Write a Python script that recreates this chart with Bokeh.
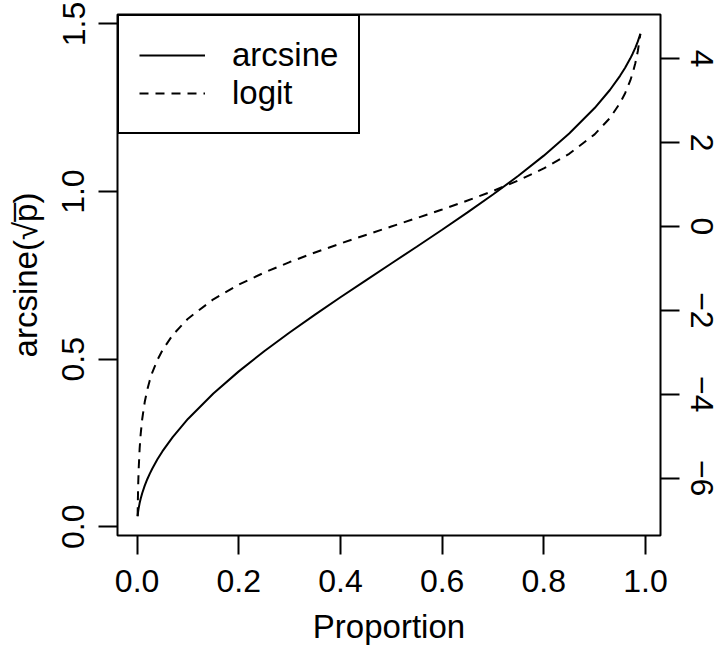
from bokeh.plotting import figure
from bokeh.models import Range1d, LinearAxis, FixedTicker, Legend, LegendItem, PrintfTickFormatter
from bokeh.embed import file_html
from bokeh.resources import INLINE

# Data
proportion = [0.001, 0.002, 0.003, 0.005, 0.007, 0.01, 0.015, 0.02, 0.025, 0.03, 0.04, 0.05,
              0.07, 0.1, 0.15, 0.2, 0.25, 0.3, 0.35, 0.4, 0.45, 0.5, 0.55, 0.6, 0.65,
              0.7, 0.75, 0.8, 0.85, 0.9, 0.93, 0.95, 0.96, 0.97, 0.975, 0.98, 0.985, 0.99]
arcsine = [0.031628, 0.044736, 0.054800, 0.070770, 0.083764, 0.100167, 0.122782, 0.141897,
           0.158780, 0.174083, 0.201358, 0.225513, 0.267763, 0.321751, 0.397699, 0.463648,
           0.523599, 0.579580, 0.633052, 0.684719, 0.735314, 0.785398, 0.835482, 0.886077,
           0.937744, 0.991216, 1.047198, 1.107148, 1.173097, 1.249045, 1.303033, 1.345283,
           1.369438, 1.396713, 1.412016, 1.428899, 1.448014, 1.470629]
logit = [-6.906755, -6.212606, -5.806138, -5.293305, -4.954820, -4.595120, -4.184591, -3.891820,
         -3.663562, -3.476099, -3.178054, -2.944439, -2.586689, -2.197225, -1.734601, -1.386294,
         -1.098612, -0.847298, -0.619039, -0.405465, -0.200671, 0.0, 0.200671, 0.405465,
         0.619039, 0.847298, 1.098612, 1.386294, 1.734601, 2.197225, 2.586689, 2.944439,
         3.178054, 3.476099, 3.663562, 3.891820, 4.184591, 4.595120]

x_ticks = [0.0, 0.2, 0.4, 0.6, 0.8, 1.0]
left_ticks = [0.0, 0.5, 1.0, 1.5]
right_ticks = [-6, -4, -2, 0, 2, 4]
right_tick_labels = ["\u22126", "\u22124", "\u22122", "0", "2", "4"]


def padded(vals, frac=0.04):
    lo, hi = min(vals), max(vals)
    d = (hi - lo) * frac
    return lo - d, hi + d


FONT = "Liberation Sans"
FS = "32px"
TFS = "33px"

x0, x1 = padded(proportion)
y0, y1 = padded(arcsine)
r0, r1 = padded(logit)

p = figure(width=718, height=647, output_backend="svg", toolbar_location=None,
           x_range=Range1d(x0, x1), y_range=Range1d(y0, y1),
           min_border_left=117, min_border_right=58, min_border_top=14, min_border_bottom=111,
           x_axis_label="Proportion", y_axis_label="arcsine(\u221ap\u0305)")
p.extra_y_ranges = {"logit": Range1d(r0, r1)}

p.outline_line_color = "black"
p.outline_line_width = 2
p.outline_line_alpha = 1
p.xgrid.visible = False
p.ygrid.visible = False
p.background_fill_color = "white"
p.border_fill_color = "white"

rA = p.line(proportion, arcsine, line_color="black", line_width=2)
rL = p.line(proportion, logit, line_color="black", line_width=2, line_dash="9 7",
            y_range_name="logit")

right = LinearAxis(y_range_name="logit")
p.add_layout(right, "right")


def style(ax):
    ax.axis_line_color = None
    ax.major_tick_line_color = "black"
    ax.major_tick_line_width = 2
    ax.major_tick_in = 0
    ax.major_tick_out = 19
    ax.minor_tick_line_color = None
    ax.major_label_text_font = FONT
    ax.major_label_text_font_size = FS
    ax.major_label_text_color = "black"
    ax.axis_label_text_font = FONT
    ax.axis_label_text_font_size = TFS
    ax.axis_label_text_font_style = "normal"
    ax.axis_label_text_color = "black"


for ax in p.xaxis:
    style(ax)
    ax.ticker = FixedTicker(ticks=x_ticks)
    ax.formatter = PrintfTickFormatter(format="%.1f")
    ax.major_label_standoff = 15
    ax.axis_label_standoff = 13

for ax in p.yaxis:
    style(ax)
    ax.major_label_orientation = "vertical"

left = p.left[0]
left.ticker = FixedTicker(ticks=left_ticks)
left.formatter = PrintfTickFormatter(format="%.1f")
left.major_label_standoff = 14
left.axis_label_standoff = 16

right.ticker = FixedTicker(ticks=right_ticks)
right.major_label_overrides = {t: s for t, s in zip(right_ticks, right_tick_labels)}
right.major_label_standoff = 11

legend = Legend(items=[LegendItem(label="arcsine", renderers=[rA]),
                       LegendItem(label="logit", renderers=[rL])],
                location="top_left", margin=0, padding=20, spacing=0,
                glyph_width=66, glyph_height=32, label_standoff=27,
                label_text_font=FONT, label_text_font_size=TFS, label_text_color="black",
                border_line_color="black", border_line_width=2, border_line_alpha=1,
                background_fill_color="white", background_fill_alpha=1)
p.add_layout(legend)

open("out.html", "w").write(file_html(p, INLINE))
